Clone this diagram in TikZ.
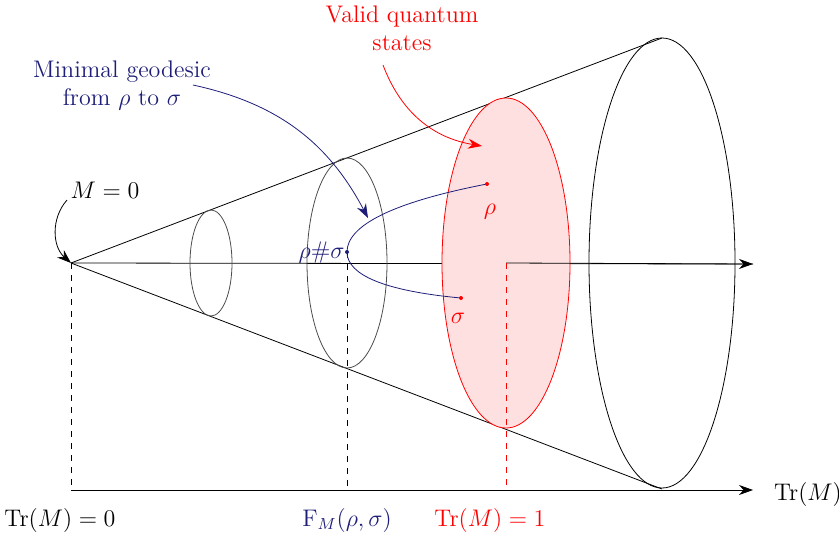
\documentclass[tikz,border=0pt]{standalone}
\usepackage{amsmath}
\usepackage{amssymb}
\usetikzlibrary{arrows.meta}
\definecolor{geoblue}{RGB}{30,30,120}
\begin{document}
\begin{tikzpicture}[x=0.5pt,y=0.5pt,font=\large,>={Stealth[length=7pt,width=5pt]}]
  \useasboundingbox (0,0) rectangle (839,537);
  % points of the cone
  \coordinate (apex) at (71,274);
  \coordinate (top) at (662,499);
  \coordinate (bot) at (662,48);
  \coordinate (redc) at (506,274);
  \coordinate (axend) at (753,273);
  \coordinate (base0) at (71,47);
  \coordinate (baseend) at (753,47);
  \coordinate (mean) at (347,285);
  \coordinate (rho) at (487,353);
  \coordinate (sigma) at (461,239);
  % cone and slices
  \draw (apex) -- (top); \draw (apex) -- (bot);
  \draw (apex) -- (axend);
  \draw[black!70] (211,274) ellipse [x radius=21, y radius=53];
  \draw[black!70] (347,274) ellipse [x radius=40, y radius=105];
  \draw[red,fill=red!12] (redc) ellipse [x radius=64, y radius=165];
  \draw[->] (redc) -- (axend);
  \draw (662,274) ellipse [x radius=73, y radius=225];
  % trace axis and projections
  \draw[->] (base0) -- (baseend);
  \draw[dashed] (apex) -- (base0);
  \draw[dashed] (mean) -- (mean |- base0);
  \draw[dashed,red] (redc) -- (redc |- base0);
  \node (trzero) at (60,17) {$\mathrm{Tr}(M)=0$};
  \node[geoblue] (fid) at (347,17) {$\mathrm{F}_M(\rho,\sigma)$};
  \node[red] (trone) at (490,17) {$\mathrm{Tr}(M)=1$};
  \node (traxis) at (808,43) {$\mathrm{Tr}(M)$};
  % geodesic between the two states
  \draw[geoblue] (rho) .. controls (394,335) and (347,312) .. (mean)
    .. controls (347,262) and (385,246) .. (sigma);
  \fill[red] (rho) circle (2); \fill[red] (sigma) circle (2);
  \fill[geoblue] (mean) circle (2);
  \node[red] (rholab) at (490,325) {$\rho$};
  \node[red] (sigmalab) at (458,219) {$\sigma$};
  \node[geoblue,left,inner sep=1pt] (meanlab) at (mean) {$\rho\#\sigma$};
  % labels with arrows
  \node (mzero) at (105,347) {$M=0$};
  \coordinate (mzerostart) at (67,337);
  \draw[->] (mzerostart) to[bend right=45] (apex);
  \node[geoblue,align=center] (geolab) at (122,451) {Minimal geodesic\\from $\rho$ to $\sigma$};
  \coordinate (geostart) at (193,452);
  \coordinate (geoend) at (368,319);
  \draw[geoblue,->] (geostart) to[bend left=25] (geoend);
  \node[red,align=center] (validlab) at (402,509) {Valid quantum\\states};
  \coordinate (validstart) at (383,472);
  \coordinate (validend) at (482,391);
  \draw[red,->] (validstart) to[bend right=30] (validend);
\end{tikzpicture}
\end{document}
